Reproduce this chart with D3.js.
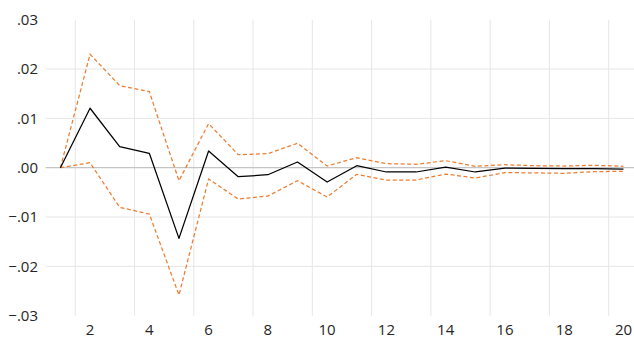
<!DOCTYPE html>
<html>
<head>
<meta charset="utf-8">
<script src="https://cdn.jsdelivr.net/npm/d3@7"></script>
<style>
  body { margin: 0; background: #fff; }
  svg { display: block; }
</style>
</head>
<body>
<div id="chart"></div>
<script>
// horizon periods
const periods = d3.range(1, 21);

// impulse response
const response = [0, 0.01205, 0.00426, 0.00292, -0.01432, 0.00339, -0.00183, -0.00142, 0.00116, -0.0029,
  0.0004, -0.00087, -0.00087, 0.0001, -0.00087, -0.0001, -0.00015, -0.0002, -0.0002, -0.0003];

// confidence bands
const upper = [0, 0.023, 0.01664, 0.01542, -0.00264, 0.00893, 0.00264, 0.00284, 0.00495, 0.00034,
  0.00203, 0.00081, 0.00069, 0.00142, 0.00028, 0.00061, 0.0004, 0.00034, 0.0005, 0.00028];
const lower = [0, 0.00101, -0.00804, -0.00939, -0.0258, -0.00229, -0.00635, -0.00574, -0.00264, -0.00594,
  -0.00134, -0.0025, -0.0025, -0.00128, -0.00209, -0.001, -0.00105, -0.00114, -0.0008, -0.00074];

const yTicks = [-0.03, -0.02, -0.01, 0, 0.01, 0.02, 0.03];

const W = 634, H = 340;
const margin = { t: 19.7, r: -4.3, b: 24.3, l: 45.6 };

const svg = d3.select('#chart').append('svg')
  .attr('width', W)
  .attr('height', H);

const x = d3.scaleBand()
  .domain(periods)
  .range([margin.l, W - margin.r])
  .padding(0);

const y = d3.scaleLinear()
  .domain([-0.03, 0.03])
  .range([H - margin.b, margin.t]);

const cx = d => x(d) + x.bandwidth() / 2;
const font = "'Open Sans', sans-serif";
const fmt = v => d3.format('.2f')(v).replace('0.', '.');

// vertical gridlines, between odd and even periods
svg.append('g')
  .selectAll('line')
  .data(periods.filter(p => p % 2 === 0))
  .join('line')
  .attr('x1', d => x(d)).attr('x2', d => x(d))
  .attr('y1', y(0.03)).attr('y2', y(-0.03))
  .attr('stroke', '#e6e6e6')
  .attr('stroke-width', 1);

// horizontal gridlines
svg.append('g')
  .selectAll('line')
  .data(yTicks.filter(v => v !== 0 && Math.abs(v) < 0.03))
  .join('line')
  .attr('x1', margin.l).attr('x2', W)
  .attr('y1', d => y(d)).attr('y2', d => y(d))
  .attr('stroke', '#e6e6e6')
  .attr('stroke-width', 1);

// zero line
svg.append('line')
  .attr('x1', margin.l).attr('x2', W)
  .attr('y1', y(0)).attr('y2', y(0))
  .attr('stroke', '#c4c4c4')
  .attr('stroke-width', 1.25);

// y labels
svg.append('g')
  .selectAll('text')
  .data(yTicks)
  .join('text')
  .attr('x', 38)
  .attr('y', d => y(d))
  .attr('dy', '0.35em')
  .attr('text-anchor', 'end')
  .attr('font-family', font)
  .attr('font-size', 15)
  .attr('fill', '#262626')
  .text(fmt);

// x labels
svg.append('g')
  .selectAll('text')
  .data(periods.filter(p => p % 2 === 0))
  .join('text')
  .attr('x', d => cx(d))
  .attr('y', 335)
  .attr('text-anchor', 'middle')
  .attr('font-family', font)
  .attr('font-size', 15)
  .attr('fill', '#262626')
  .text(d => d);

const line = d3.line()
  .x((d, i) => cx(periods[i]))
  .y(d => y(d));

// bands
[upper, lower].forEach(s => {
  svg.append('path')
    .datum(s)
    .attr('d', line)
    .attr('fill', 'none')
    .attr('stroke', '#ED7D31')
    .attr('stroke-width', 1.25)
    .attr('stroke-dasharray', '4,2.5');
});

// response
svg.append('path')
  .datum(response)
  .attr('d', line)
  .attr('fill', 'none')
  .attr('stroke', '#000')
  .attr('stroke-width', 1.25)
  .attr('stroke-linejoin', 'round');
</script>
</body>
</html>
